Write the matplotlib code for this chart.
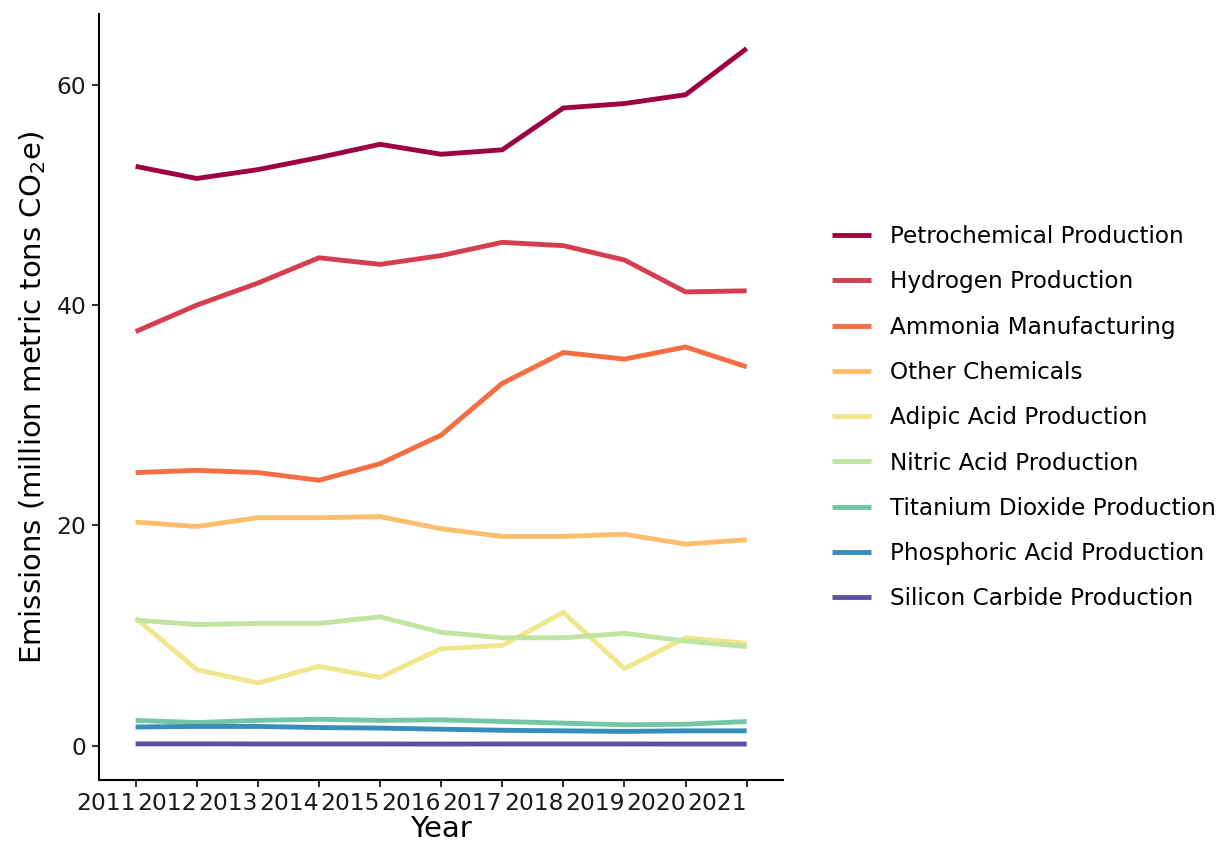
import numpy as np
import matplotlib
matplotlib.use("Agg")
import matplotlib.pyplot as plt

# =========================
# DATA
# =========================
years = [2011, 2012, 2013, 2014, 2015, 2016, 2017, 2018, 2019, 2020, 2021]

petrochemical = [52.6, 51.5, 52.3, 53.4, 54.6, 53.7, 54.1, 57.9, 58.3, 59.1, 63.3]
hydrogen = [37.6, 40.0, 42.0, 44.3, 43.7, 44.5, 45.7, 45.4, 44.1, 41.2, 41.3]
ammonia = [24.8, 25.0, 24.8, 24.1, 25.6, 28.2, 32.9, 35.7, 35.1, 36.2, 34.4]
other_chem = [20.3, 19.9, 20.7, 20.7, 20.8, 19.7, 19.0, 19.0, 19.2, 18.3, 18.7]
adipic = [11.6, 6.9, 5.7, 7.2, 6.2, 8.8, 9.1, 12.1, 7.0, 9.8, 9.3]
nitric = [11.4, 11.0, 11.1, 11.1, 11.7, 10.3, 9.8, 9.8, 10.2, 9.5, 9.0]
titanium = [2.3, 2.1, 2.3, 2.4, 2.3, 2.35, 2.2, 2.05, 1.9, 1.95, 2.2]
phosphoric = [1.7, 1.75, 1.75, 1.65, 1.6, 1.5, 1.4, 1.35, 1.3, 1.35, 1.35]
silicon = [0.17, 0.17, 0.16, 0.16, 0.16, 0.15, 0.16, 0.16, 0.16, 0.15, 0.15]

labels = ["Petrochemical Production", "Hydrogen Production", "Ammonia Manufacturing",
          "Other Chemicals", "Adipic Acid Production", "Nitric Acid Production",
          "Titanium Dioxide Production", "Phosphoric Acid Production",
          "Silicon Carbide Production"]
series = [petrochemical, hydrogen, ammonia, other_chem, adipic, nitric,
          titanium, phosphoric, silicon]
colors = ['#9e0142', '#d53e4f', '#f46d43', '#fdbe6e', '#f0e68c',
          '#bfe5a0', '#74c7a5', '#378ebb', '#5e4fa2']

# =========================
# PLOT
# =========================
fig = plt.figure(figsize=(12.22, 8.44), dpi=100)
ax = fig.add_axes([0.081, 0.076, 0.56, 0.907])

for lab, vals, c in zip(labels, series, colors):
    ax.plot(years, vals, color=c, lw=3.5, label=lab, solid_capstyle='butt')

ax.set_xlim(2010.4, 2021.6)
ax.set_ylim(-3.1, 66.4)
ax.set_xticks(years)
ax.set_xticklabels([str(y) for y in years], ha='right')
ax.set_yticks([0, 20, 40, 60])

for side in ['top', 'right']:
    ax.spines[side].set_visible(False)
for side in ['left', 'bottom']:
    ax.spines[side].set_linewidth(1.5)

ax.tick_params(axis='both', labelsize=16.8, length=5, width=1.5, color='#333333',
               labelcolor='#1a1a1a', pad=4)
ax.set_xlabel("Year", fontsize=21, labelpad=0)
ax.set_ylabel("Emissions (million metric tons CO$_2$e)", fontsize=21, labelpad=6)

fig.legend(loc='center left', bbox_to_anchor=(0.664, 0.505), frameon=False,
           fontsize=16.7, handlelength=1.65, handletextpad=0.85, labelspacing=0.96)

fig.savefig("out.png", dpi=100)
